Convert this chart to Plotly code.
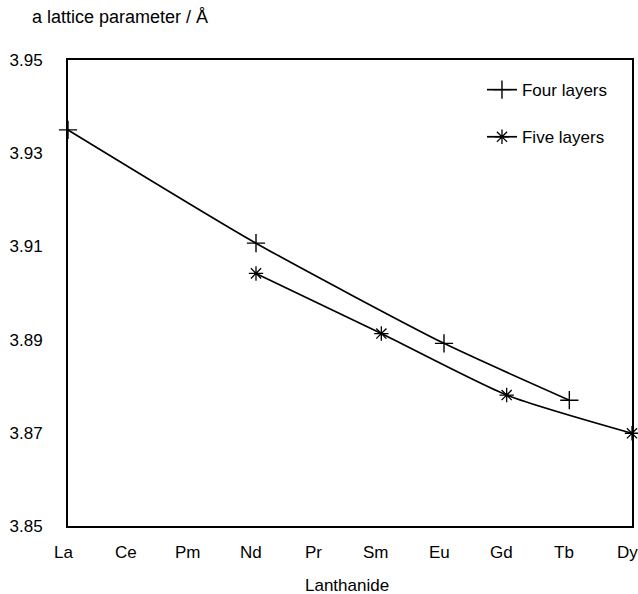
import plotly.graph_objects as go

# Lanthanide series along the x axis
lanthanides = ["La", "Ce", "Pm", "Nd", "Pr", "Sm", "Eu", "Gd", "Tb", "Dy"]

# a lattice parameter (Å)
four_x = ["La", "Nd", "Eu", "Tb"]
four_y = [3.935, 3.9107, 3.8892, 3.8770]

five_x = ["Nd", "Sm", "Gd", "Dy"]
five_y = [3.9042, 3.8913, 3.8781, 3.8699]

y_ticks = [3.85, 3.87, 3.89, 3.91, 3.93, 3.95]

W, H = 638, 594
L, R, T, B = 68, 6, 60, 68
pw, ph = W - L - R, H - T - B

fig = go.Figure()
fig.add_trace(go.Scatter(
    x=four_x, y=four_y, name="Four layers", mode="lines+markers",
    line=dict(color="black", width=1.7, shape="spline", smoothing=0.6),
    marker=dict(symbol="cross-thin", size=13, color="black",
                line=dict(color="black", width=1.4)),
    cliponaxis=False, legendgroup="a",
))
fig.add_trace(go.Scatter(
    x=five_x, y=five_y, name="Five layers", mode="lines+markers",
    line=dict(color="black", width=1.7, shape="spline", smoothing=0.6),
    marker=dict(symbol="asterisk-open", size=12, color="black",
                line=dict(color="black", width=1.3)),
    cliponaxis=False, legendgroup="b",
))

font = dict(family="Liberation Sans, Arial, sans-serif", size=17, color="black")

# Category labels under the x axis, nudged slightly left of each position
x_labels = [
    dict(text=name, xref="x", yref="paper", x=name, y=-(552 - (T + ph)) / ph,
         xanchor="center", yanchor="middle", xshift=-5, showarrow=False,
         font=dict(size=17))
    for name in lanthanides
]

fig.update_layout(
    width=W, height=H,
    margin=dict(l=L, r=R, t=T, b=B, autoexpand=False),
    paper_bgcolor="white", plot_bgcolor="white",
    font=font,
    showlegend=True,
    legend=dict(x=0.734, y=0.974, xanchor="left", yanchor="top",
                bgcolor="rgba(0,0,0,0)", font=dict(size=17),
                tracegroupgap=22, itemwidth=30),
    xaxis=dict(
        type="category", categoryorder="array", categoryarray=lanthanides,
        range=[0, 9], automargin=False, showticklabels=False,
        showgrid=False, zeroline=False,
        showline=True, linecolor="black", linewidth=2, mirror=True,
        ticks="",
    ),
    yaxis=dict(
        range=[3.85, 3.95], tickvals=y_ticks, automargin=False,
        ticktext=[f"{v:.2f}" for v in y_ticks],
        showgrid=False, zeroline=False,
        showline=True, linecolor="black", linewidth=2, mirror=True,
        ticks="", ticklabelstandoff=20, tickfont=font,
    ),
    annotations=x_labels + [
        dict(text="a lattice parameter / Å", xref="paper", yref="paper",
             x=(30 - L) / pw, y=1 + (T - 17) / ph, xanchor="left", yanchor="middle",
             showarrow=False, font=dict(size=18)),
        dict(text="Lanthanide", xref="paper", yref="paper",
             x=0.5 - 3 / pw, y=-(585 - (T + ph)) / ph, xanchor="center", yanchor="middle",
             showarrow=False, font=dict(size=17)),
    ],
)

fig.write_html("out.html")
